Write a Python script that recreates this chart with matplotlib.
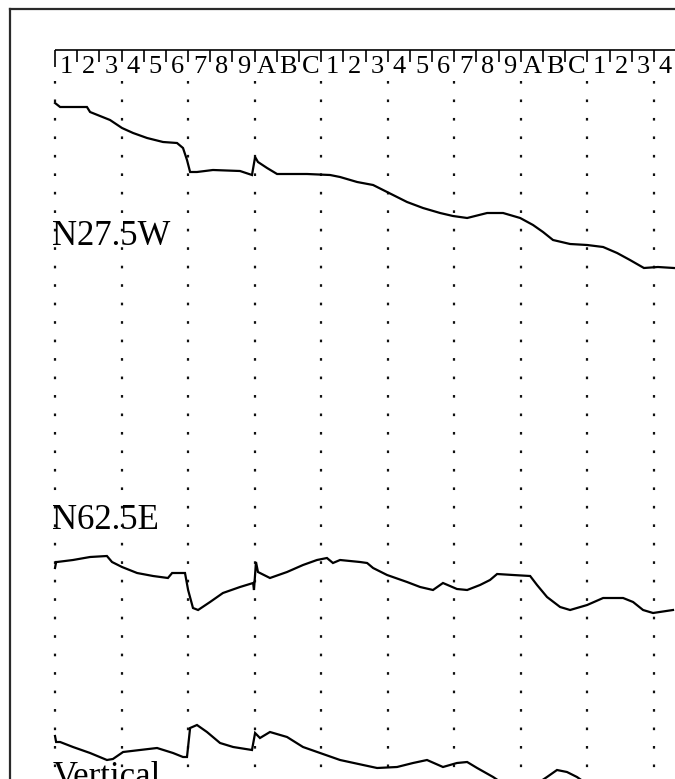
import matplotlib
matplotlib.use('Agg')
import matplotlib.pyplot as plt
from matplotlib.lines import Line2D

plt.rcParams['lines.scale_dashes'] = False
plt.rcParams['font.family'] = ['Liberation Serif', 'DejaVu Serif']

# ---- data -------------------------------------------------------------
box_labels = list("123456789ABC123456789ABC1234")
trace_names = ["N27.5W", "N62.5E", "Vertical"]

# time in box units (one box = one label cell), amplitude in screen units
n27_t = [0.00, 0.23, 0.81, 1.44, 1.58, 2.03, 2.48, 3.02, 3.52, 4.15, 4.87, 5.50,
         5.77, 5.95, 6.09, 6.40, 7.12, 8.34, 8.88, 9.02, 9.15, 9.56, 10.01, 11.36,
         12.40, 12.85, 13.62, 14.34, 14.97, 15.87, 16.59, 17.36, 17.94, 18.58,
         19.48, 20.20, 20.97, 21.55, 22.00, 22.45, 23.22, 23.99, 24.71, 25.34,
         25.92, 26.55, 27.18, 27.90]
n27_a = [0, -4, -4, -4, -9, -13, -17, -25, -30, -35, -39, -40,
         -45, -57, -69, -69, -67, -68, -72, -54, -59, -65, -71, -71,
         -72, -74, -79, -82, -89, -99, -105, -110, -113, -115,
         -110, -110, -115, -122, -129, -137, -141, -142, -144, -150,
         -157, -165, -164, -165]

n62_t = [0.00, 0.05, 0.09, 0.81, 1.58, 2.34, 2.57, 3.02, 3.70, 4.42, 5.09, 5.28,
         5.86, 6.00, 6.22, 6.45, 6.99, 7.57, 8.34, 8.93, 8.97, 9.06, 9.15, 9.69,
         10.46, 11.18, 11.81, 12.26, 12.53, 12.85, 13.75, 14.07, 14.34, 14.97,
         15.87, 16.46, 17.04, 17.49, 18.12, 18.58, 19.16, 19.61, 19.93, 20.65,
         21.42, 21.73, 22.18, 22.77, 23.22, 23.99, 24.71, 25.61, 26.06, 26.51,
         26.96, 27.86]
n62_a = [-6, 0, 0, 2, 5, 6, 0, -5, -11, -14, -16, -11,
         -11, -28, -46, -48, -40, -31, -25, -21, -28, 0, -10, -16,
         -10, -3, 2, 4, -1, 2, 0, -1, -6, -13,
         -20, -25, -28, -21, -27, -28, -23, -18, -12, -13,
         -14, -23, -35, -45, -48, -43, -36, -36, -40, -48,
         -51, -48]

vert_t = [0.00, 0.05, 0.23, 0.81, 1.58, 2.34, 2.61, 3.07, 3.83, 4.60, 5.32, 5.77,
          5.95, 6.09, 6.40, 6.85, 7.44, 8.03, 8.88, 9.02, 9.24, 9.69, 10.46, 11.18,
          11.95, 12.85, 13.89, 14.52, 15.42, 16.14, 16.77, 17.49, 18.12, 18.58,
          19.03, 19.75, 20.29, 20.97, 21.64, 22.18, 22.63, 23.08, 23.53, 24.57,
          27.86]
vert_a = [2, -4, -4, -9, -15, -22, -21, -14, -12, -10, -15, -19,
          -19, 10, 13, 6, -5, -9, -12, 5, 0, 6, 1, -9,
          -15, -22, -27, -30, -29, -25, -22, -29, -25, -24,
          -30, -39, -47, -52, -47, -39, -32, -34, -39, -55,
          -60]

traces = [(n27_t, n27_a), (n62_t, n62_a), (vert_t, vert_a)]

# ---- layout -----------------------------------------------------------
baselines = [-103, -562, -738]
label_y = [-245, -529, -786]

fig = plt.figure(figsize=(6.75, 7.79), dpi=100)
ax = fig.add_axes([0, 0, 1, 1])
ax.set_xlim(-2.48, 27.95)
ax.set_ylim(-779, 0)
ax.axis('off')

# outer frame (top and left edges visible)
fx = 10 / 675
fy = 1 - 9 / 779
ax.add_line(Line2D([fx, 1.02], [fy, fy], transform=ax.transAxes,
                   color='#2a2a2a', lw=1.6, clip_on=False))
ax.add_line(Line2D([fx, fx], [fy, -0.02], transform=ax.transAxes,
                   color='#2a2a2a', lw=1.6, clip_on=False))

# label cells along the top
n = len(box_labels)
ax.plot([0, n], [-50, -50], color='black', lw=1.2, solid_capstyle='butt')
for i, lab in enumerate(box_labels):
    bottom = -67 if i == 0 else -62
    ax.plot([i, i], [-50, bottom], color='black', lw=1.2, solid_capstyle='butt')
    ax.text(i + 0.52, -73, lab, ha='center', va='baseline', fontsize=19,
            color='black')

# dotted vertical guides every three cells
for k in range(0, n, 3):
    ax.plot([k, k], [-81, -800], color='#111111', lw=1.6,
            dashes=(1.9, 11.4), solid_capstyle='butt')

# traces
for (t, a), base in zip(traces, baselines):
    ax.plot(t, [base + v for v in a], color='black', lw=1.6,
            solid_joinstyle='miter')

# trace names
for name, y in zip(trace_names, label_y):
    ax.text(-0.12, y, name, ha='left', va='baseline', fontsize=25,
            color='black', zorder=5)

fig.savefig('out.png', dpi=100, facecolor='white')
